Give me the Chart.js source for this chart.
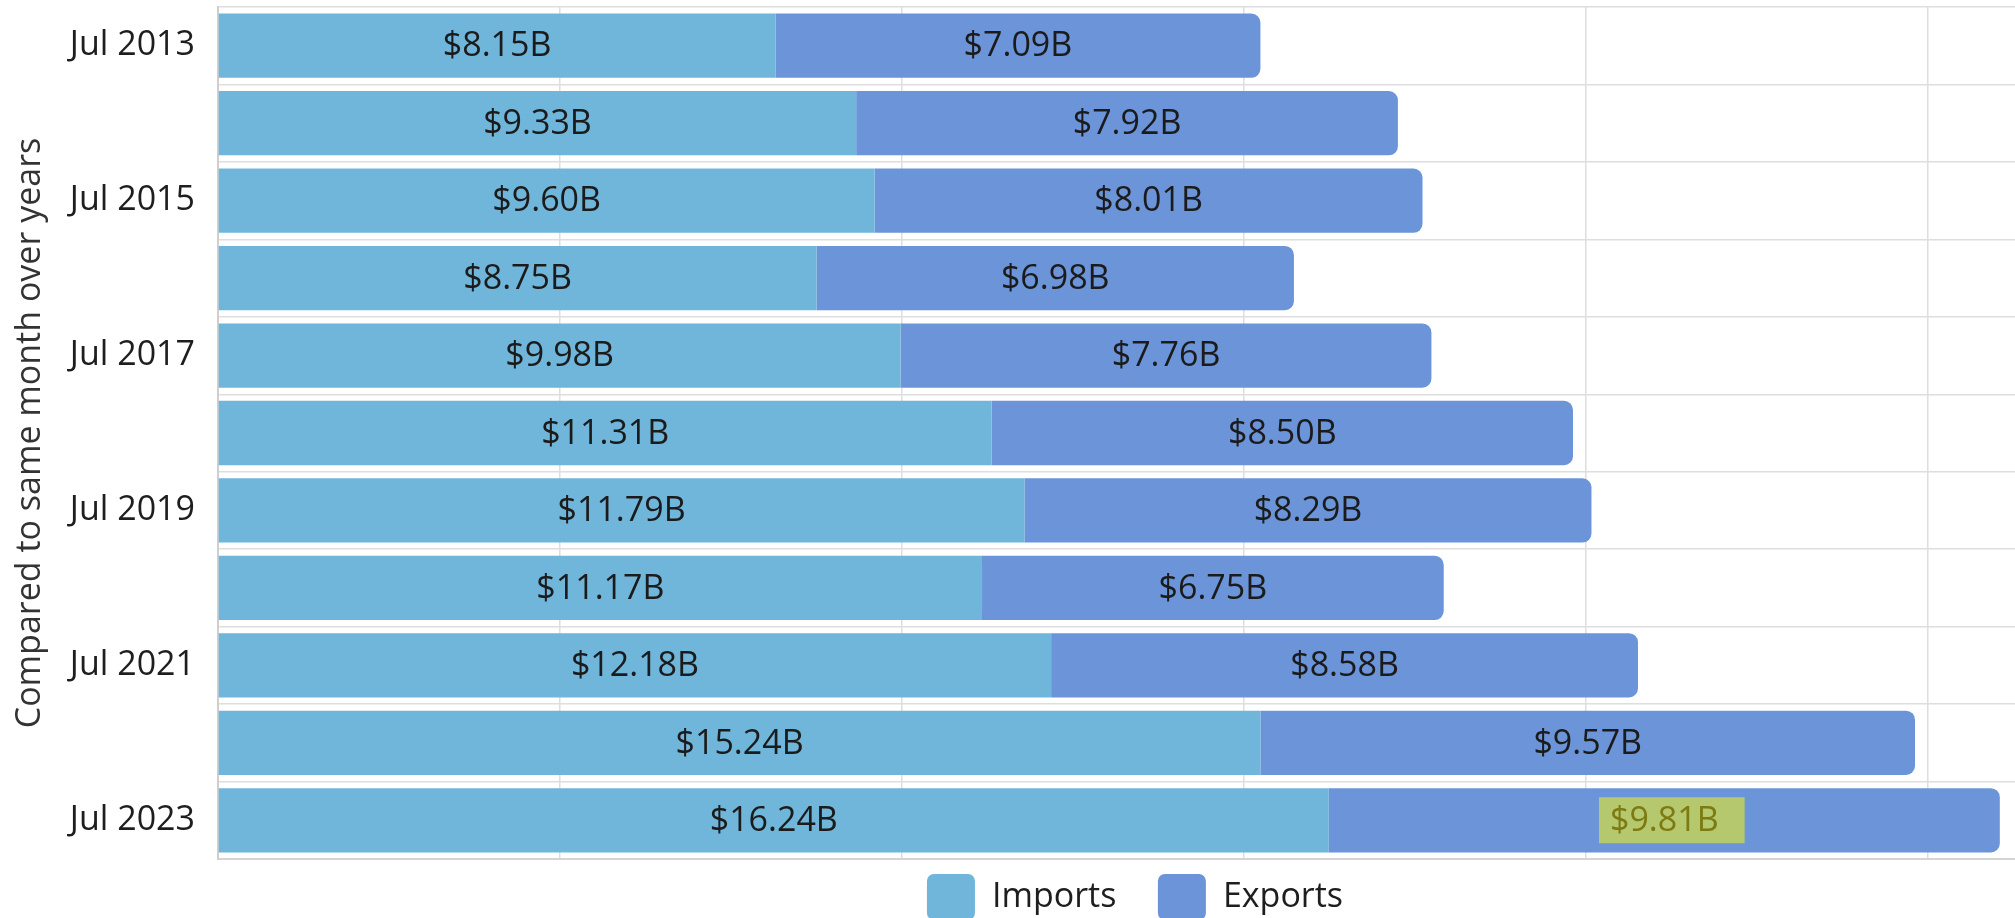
<!DOCTYPE html>
<html>
<head>
<meta charset="utf-8">
<script src="https://cdn.jsdelivr.net/npm/chart.js@4.4.0/dist/chart.umd.min.js"></script>
<style>
  html, body { margin: 0; padding: 0; background: #fff; overflow: hidden; }
  #wrap { position: absolute; left: 0; top: 0; width: 2270px; height: 930px; }
</style>
</head>
<body>
<div id="wrap"><canvas id="tradeChart"></canvas></div>
<script>
// ── Data ──
const categories = ['Jul 2013', 'Jul 2014', 'Jul 2015', 'Jul 2016', 'Jul 2017', 'Jul 2018',
                    'Jul 2019', 'Jul 2020', 'Jul 2021', 'Jul 2022', 'Jul 2023'];
const importsValues = [8.15, 9.33, 9.60, 8.75, 9.98, 11.31, 11.79, 11.17, 12.18, 15.24, 16.24];
const exportsValues = [7.09, 7.92, 8.01, 6.98, 7.76, 8.50, 8.29, 6.75, 8.58, 9.57, 9.81];
const shownTickLabels = ['Jul 2013', 'Jul 2015', 'Jul 2017', 'Jul 2019', 'Jul 2021', 'Jul 2023'];
const axisTitle = 'Compared to same month over years';

// the one label that is highlighted in the picture
const highlight = { dataset: 1, index: 10 };

const FONT = "'Open Sans', 'Noto Sans', sans-serif";
Chart.defaults.font.family = FONT;
Chart.defaults.font.size = 34;
Chart.defaults.color = '#1e1e1e';

const fmtB = v => '$' + v.toFixed(2) + 'B';

// ── Segment labels ──
const barLabels = {
  id: 'barLabels',
  afterDatasetsDraw(chart) {
    const ctx = chart.ctx;
    ctx.save();
    ctx.font = '34px ' + FONT;
    ctx.textAlign = 'center';
    ctx.textBaseline = 'middle';
    chart.data.datasets.forEach((ds, di) => {
      chart.getDatasetMeta(di).data.forEach((bar, i) => {
        const cx = (bar.x + bar.base) / 2;
        const cy = bar.y;
        const txt = fmtB(ds.data[i]);
        if (di === highlight.dataset && i === highlight.index) {
          const w = ctx.measureText(txt).width;
          ctx.fillStyle = '#b6c86e';
          ctx.fillRect(cx - w / 2 - 11, cy - 23, w + 37, 46);
          ctx.fillStyle = '#7d7a12';
        } else {
          ctx.fillStyle = '#1b1b1b';
        }
        ctx.fillText(txt, cx, cy + 1);
      });
    });
    ctx.restore();
  }
};

new Chart(document.getElementById('tradeChart'), {
  type: 'bar',
  data: {
    labels: categories,
    datasets: [
      {
        label: 'Imports',
        data: importsValues,
        backgroundColor: '#70b5da',
        barPercentage: 0.83,
        categoryPercentage: 1,
      },
      {
        label: 'Exports',
        data: exportsValues,
        backgroundColor: '#6b94d9',
        borderRadius: 9,
        barPercentage: 0.83,
        categoryPercentage: 1,
      }
    ]
  },
  options: {
    indexAxis: 'y',
    responsive: true,
    maintainAspectRatio: false,
    animation: false,
    layout: { padding: { top: 7, left: 0, right: 0, bottom: 0 } },
    plugins: {
      tooltip: { enabled: false },
      legend: {
        position: 'bottom',
        labels: {
          boxWidth: 48,
          boxHeight: 46,
          padding: 15,
          useBorderRadius: true,
          borderRadius: 7,
          color: '#1e1e1e',
          font: { size: 34 },
          generateLabels(chart) {
            const items = Chart.defaults.plugins.legend.labels.generateLabels(chart);
            items.forEach(it => { it.lineWidth = 0; });
            items[0].text = items[0].text + '   ';
            return items;
          }
        }
      }
    },
    scales: {
      x: {
        stacked: true,
        min: 0,
        max: 30,
        ticks: { display: false, stepSize: 5 },
        grid: { color: '#dedede', lineWidth: 1.5, drawTicks: false },
        border: { display: true, color: '#d4d4d4', width: 2 }
      },
      y: {
        stacked: true,
        afterFit(scale) {
          scale.width = 218;
          scale.paddingTop = 0;
          scale.paddingBottom = 0;
        },
        ticks: {
          padding: 23,
          color: '#1e1e1e',
          font: { size: 34 },
          autoSkip: false,
          callback(val) {
            const lbl = this.getLabelForValue(val);
            return shownTickLabels.includes(lbl) ? lbl : '';
          }
        },
        grid: { color: '#dedede', lineWidth: 1.5, drawTicks: false, offset: true },
        border: { display: true, color: '#cfcfcf', width: 2 },
        title: {
          display: true,
          text: axisTitle,
          color: '#333',
          font: { size: 34 },
          padding: { top: 10, bottom: 0 }
        }
      }
    }
  },
  plugins: [barLabels]
});
</script>
</body>
</html>
